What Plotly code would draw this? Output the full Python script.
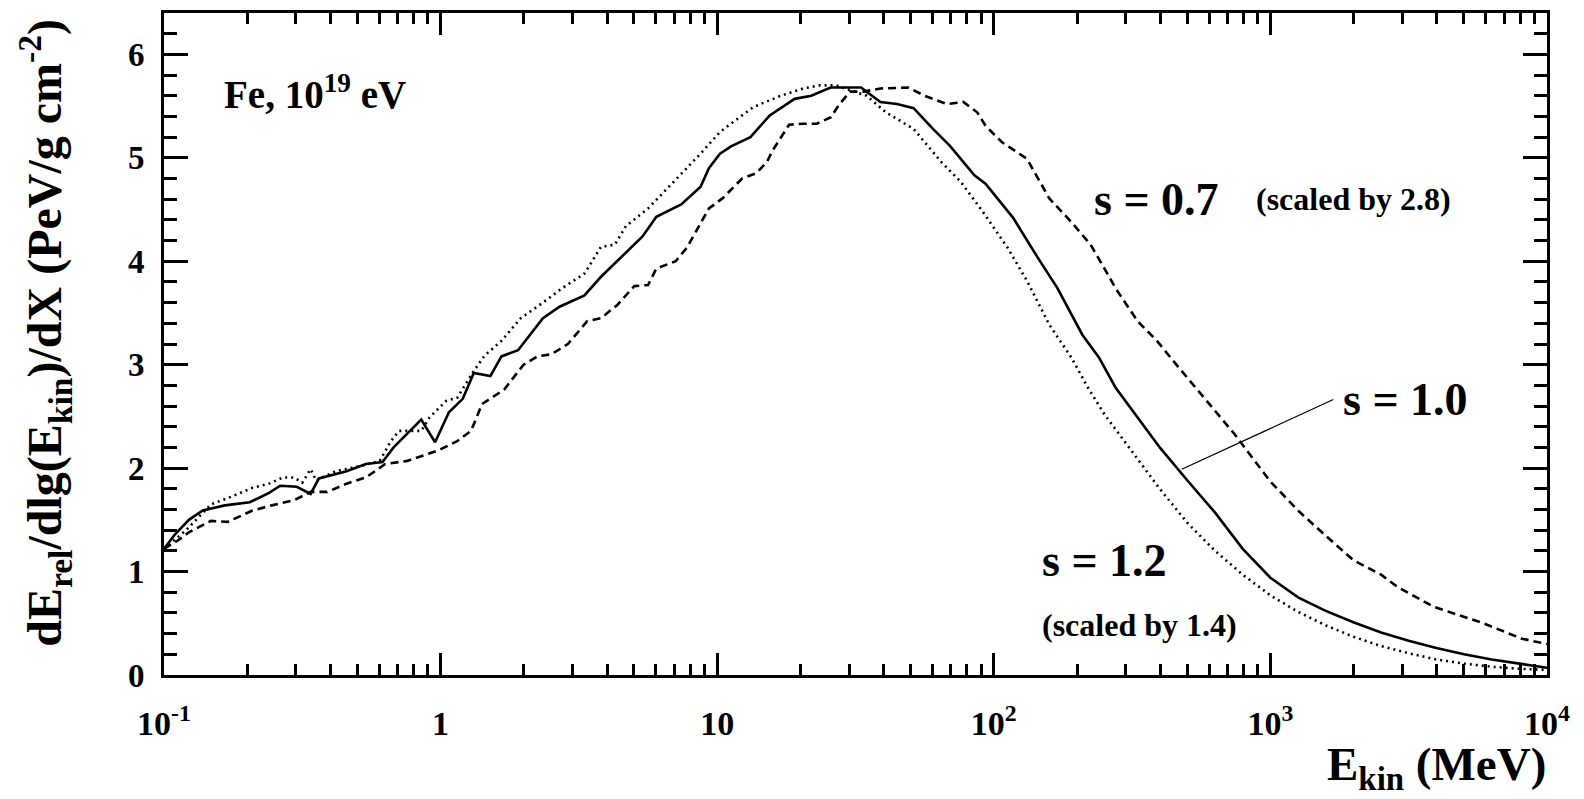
import plotly.graph_objects as go

# ---- data: log10(E_kin / MeV) and dE/dlgE/dX (PeV / g cm^-2) ----
lgE_s10 = [-1.0, -0.96, -0.91, -0.86, -0.78, -0.69, -0.62, -0.58, -0.52, -0.47, -0.44, -0.34, -0.27,
           -0.21, -0.17, -0.07, -0.02, 0.03, 0.08, 0.12, 0.18, 0.22, 0.28, 0.37, 0.43, 0.52, 0.58,
           0.67, 0.73, 0.78, 0.82, 0.87, 0.94, 0.97, 1.01, 1.05, 1.12, 1.19, 1.28, 1.34, 1.41, 1.47,
           1.52, 1.59, 1.65, 1.71, 1.78, 1.84, 1.93, 1.97, 2.07, 2.16, 2.23, 2.32, 2.38, 2.44, 2.5,
           2.6, 2.7, 2.8, 2.9, 3.0, 3.1, 3.2, 3.3, 3.4, 3.5, 3.6, 3.7, 3.8, 3.9, 4.0]
val_s10 = [1.22, 1.36, 1.50, 1.59, 1.64, 1.67, 1.76, 1.83, 1.82, 1.75, 1.90, 1.97, 2.04,
           2.06, 2.20, 2.47, 2.25, 2.54, 2.67, 2.92, 2.89, 3.08, 3.14, 3.45, 3.56, 3.67, 3.85,
           4.09, 4.24, 4.43, 4.48, 4.55, 4.72, 4.90, 5.04, 5.11, 5.20, 5.41, 5.57, 5.60, 5.68, 5.68,
           5.68, 5.54, 5.52, 5.48, 5.28, 5.12, 4.83, 4.75, 4.42, 4.03, 3.74, 3.29, 3.07, 2.78, 2.56,
           2.20, 1.88, 1.57, 1.22, 0.94, 0.75, 0.62, 0.51, 0.41, 0.33, 0.26, 0.20, 0.15, 0.11, 0.07]

lgE_s12 = [-1.0, -0.92, -0.83, -0.76, -0.68, -0.62, -0.57, -0.53, -0.50, -0.47, -0.45, -0.38, -0.29,
           -0.22, -0.18, -0.15, -0.07, -0.04, 0.02, 0.06, 0.12, 0.16, 0.22, 0.29, 0.37, 0.44, 0.52,
           0.58, 0.63, 0.67, 0.75, 0.83, 0.87, 0.94, 1.01, 1.08, 1.13, 1.23, 1.31, 1.37, 1.43, 1.54,
           1.61, 1.71, 1.81, 1.88, 1.96, 2.05, 2.12, 2.2, 2.28, 2.34, 2.4, 2.5, 2.6, 2.7, 2.8, 2.9,
           3.0, 3.1, 3.2, 3.3, 3.4, 3.5, 3.6, 3.7, 3.8, 3.9, 4.0]
val_s12 = [1.22, 1.40, 1.65, 1.72, 1.81, 1.85, 1.91, 1.91, 1.86, 1.99, 1.88, 1.97, 2.02,
           2.07, 2.26, 2.36, 2.36, 2.49, 2.65, 2.68, 2.94, 3.09, 3.23, 3.45, 3.60, 3.74, 3.88,
           4.14, 4.16, 4.34, 4.51, 4.73, 4.85, 5.04, 5.25, 5.39, 5.49, 5.60, 5.67, 5.70, 5.70, 5.60,
           5.44, 5.28, 4.96, 4.77, 4.48, 4.13, 3.81, 3.39, 3.07, 2.78, 2.52, 2.16, 1.80, 1.47, 1.20, 0.97,
           0.77, 0.61, 0.48, 0.37, 0.28, 0.21, 0.15, 0.11, 0.08, 0.06, 0.05]

lgE_s07 = [-1.0, -0.95, -0.91, -0.83, -0.77, -0.68, -0.61, -0.53, -0.47, -0.41, -0.34, -0.27, -0.2,
           -0.12, -0.01, 0.06, 0.11, 0.15, 0.23, 0.30, 0.35, 0.40, 0.46, 0.53, 0.58, 0.64, 0.70, 0.75,
           0.78, 0.85, 0.89, 0.93, 0.97, 1.02, 1.09, 1.14, 1.18, 1.2, 1.23, 1.26, 1.31, 1.36, 1.41,
           1.44, 1.48, 1.53, 1.59, 1.69, 1.75, 1.83, 1.89, 1.94, 1.97, 2.03, 2.12, 2.16, 2.2, 2.28,
           2.35, 2.4, 2.44, 2.52, 2.59, 2.66, 2.73, 2.8, 2.87, 3.0, 3.1, 3.19, 3.3, 3.4, 3.46, 3.59,
           3.7, 3.77, 3.91, 4.0]
val_s07 = [1.22, 1.30, 1.38, 1.49, 1.48, 1.59, 1.64, 1.69, 1.77, 1.77, 1.85, 1.91, 2.04,
           2.07, 2.17, 2.26, 2.36, 2.62, 2.76, 3.00, 3.08, 3.10, 3.20, 3.42, 3.45, 3.58, 3.76, 3.77,
           3.93, 4.00, 4.13, 4.32, 4.51, 4.61, 4.80, 4.85, 4.96, 5.07, 5.20, 5.32, 5.33, 5.33, 5.39,
           5.51, 5.64, 5.64, 5.67, 5.68, 5.60, 5.52, 5.54, 5.44, 5.31, 5.15, 4.99, 4.80, 4.61, 4.38,
           4.16, 3.93, 3.74, 3.42, 3.23, 3.00, 2.78, 2.55, 2.33, 1.87, 1.59, 1.37, 1.11, 0.97, 0.85, 0.66,
           0.56, 0.50, 0.35, 0.30]

x_tickvals = [0.1, 1, 10, 100, 1000, 10000]
x_ticktext = ["10<sup>-1</sup>", "1", "10", "10<sup>2</sup>", "10<sup>3</sup>", "10<sup>4</sup>"]
y_tickvals = [0, 1, 2, 3, 4, 5, 6]

FONT = "Liberation Serif"
BLACK = "black"

fig = go.Figure()
fig.add_trace(go.Scatter(x=[10 ** v for v in lgE_s07], y=val_s07, mode="lines",
                         line=dict(color=BLACK, width=2.6, dash="8px,5px"), name="s = 0.7"))
fig.add_trace(go.Scatter(x=[10 ** v for v in lgE_s12], y=val_s12, mode="lines",
                         line=dict(color=BLACK, width=2.6, dash="2px,4px"), name="s = 1.2"))
fig.add_trace(go.Scatter(x=[10 ** v for v in lgE_s10], y=val_s10, mode="lines",
                         line=dict(color=BLACK, width=2.6), name="s = 1.0"))

x_minor = [m * d for d in [0.1, 1, 10, 100, 1000] for m in range(2, 10)]
y_minor = [i / 5 for i in range(0, 33)]

fig.update_layout(
    width=1584, height=799,
    margin=dict(l=164, r=37, t=10, b=124),
    plot_bgcolor="white", paper_bgcolor="white",
    showlegend=False,
    font=dict(family=FONT, color=BLACK),
)
fig.update_xaxes(
    type="log", range=[-1, 4],
    showline=True, linewidth=3, linecolor=BLACK, mirror="ticks",
    ticks="inside", ticklen=22, tickwidth=2.5, tickcolor=BLACK,
    tickvals=x_tickvals, ticktext=x_ticktext,
    tickfont=dict(family=FONT, size=34, color=BLACK, weight="bold"),
    ticklabelstandoff=16,
    showgrid=False, zeroline=False,
    minor=dict(ticks="inside", ticklen=11, tickwidth=2.5, tickcolor=BLACK,
               tickvals=x_minor, showgrid=False),
)
fig.update_yaxes(
    range=[0, 6.4],
    showline=True, linewidth=3, linecolor=BLACK, mirror="ticks",
    ticks="inside", ticklen=24, tickwidth=2.5, tickcolor=BLACK,
    tickvals=y_tickvals,
    tickfont=dict(family=FONT, size=33, color=BLACK, weight="bold"),
    ticklabelstandoff=10,
    showgrid=False, zeroline=False,
    minor=dict(ticks="inside", ticklen=13, tickwidth=2.5, tickcolor=BLACK,
               tickvals=y_minor, showgrid=False),
)

def ann(text, x, y, size, xanchor="left", yanchor="middle", angle=0):
    fig.add_annotation(text=text, x=x, y=y, xref="paper", yref="paper",
                       xanchor=xanchor, yanchor=yanchor, showarrow=False, textangle=angle,
                       borderpad=0,
                       font=dict(family=FONT, size=size, color=BLACK, weight="bold"))

ann("Fe, 10<sup>19</sup> eV", 0.043, 0.880, 39)
ann("s = 0.7", 0.672, 0.719, 46)
ann("(scaled by 2.8)", 0.789, 0.719, 32)
ann("s = 1.0", 0.852, 0.4165, 46)
ann("s = 1.2", 0.634, 0.173, 46)
ann("(scaled by 1.4)", 0.634, 0.075, 32)
ann("E<sub>kin</sub> (MeV)", 1.0, -0.094, 47, xanchor="right", yanchor="top")
ann("dE<sub>rel</sub>/dlg(E<sub>kin</sub>)/dX (PeV/g cm<sup>-2</sup>)", -0.086, 0.517, 48,
    xanchor="center", yanchor="middle", angle=-90)

fig.add_shape(type="line", xref="paper", yref="paper",
              x0=0.7359, y0=0.3108, x1=0.8455, y1=0.4161,
              line=dict(color=BLACK, width=1.2))

fig.write_html("out.html")
